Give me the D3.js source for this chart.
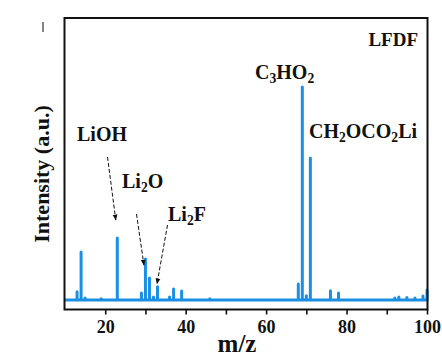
<!DOCTYPE html>
<html><head><meta charset="utf-8">
<script src="https://cdn.jsdelivr.net/npm/d3@7"></script>
<style>
html,body{margin:0;padding:0;background:#fff;}
svg{display:block;}
text{font-family:"Liberation Serif","Times New Roman",serif;font-weight:bold;fill:#111;}
</style></head><body>
<svg id="chart" width="442" height="360"></svg>
<script>
// m/z positions of peaks and their relative intensities
const peakMz        = [13, 14, 15, 19, 23, 29, 30, 31, 32, 33, 36, 37, 39, 46, 68, 69, 70, 71, 76, 78, 92, 93, 95, 97, 99, 100];
const peakIntensity = [3.9, 22.5, 0.9, 0.6, 29.1, 3.3, 19.2, 10.3, 1.4, 6.2, 1.4, 5.2, 4.2, 0.6, 7.5, 100, 2, 66.7, 4.4, 3.3, 0.9, 1.4, 1.2, 0.9, 1.9, 4.7];
const xTicks = [20, 30, 40, 50, 60, 70, 80, 90, 100];
const xTickLabels = ["20", "", "40", "", "60", "", "80", "", "100"];
const xDomain = [10, 100];
const sampleLabel = "LFDF";
const xTitle = "m/z";
const yTitle = "Intensity (a.u.)";

const svg = d3.select("#chart");
const plot = {left: 64.5, right: 427.5, top: 18, bottom: 309.5};
const x = d3.scaleLinear().domain(xDomain).range([65, 427]);
const y = d3.scaleLinear().domain([0, 100]).range([300, 87]);

// spectrum path
const pts = [[xDomain[0], 0]];
peakMz.forEach((m, i) => { pts.push([m, 0], [m, peakIntensity[i]], [m, 0]); });
pts.push([xDomain[1], 0]);
const line = d3.line().x(d => x(d[0])).y(d => y(d[1]));
svg.append("path").attr("d", line(pts))
  .attr("fill", "none").attr("stroke", "#1b8fe4").attr("stroke-width", 3)
  .attr("stroke-linejoin", "round");

// frame
svg.append("rect").attr("x", plot.left).attr("y", plot.top)
  .attr("width", plot.right - plot.left).attr("height", plot.bottom - plot.top)
  .attr("fill", "none").attr("stroke", "#111").attr("stroke-width", 2);

// bottom axis
const xAxis = d3.axisBottom(x).tickValues(xTicks).tickSize(5).tickPadding(6)
  .tickFormat((d, i) => xTickLabels[i]);
const gx = svg.append("g").attr("transform", `translate(0,${plot.bottom})`).call(xAxis);
gx.select(".domain").remove();
gx.selectAll(".tick line").attr("stroke", "#111").attr("stroke-width", 1.6);
gx.selectAll(".tick text").attr("font-size", 18).attr("font-family", "Liberation Serif")
  .attr("font-weight", "bold").attr("fill", "#111");

// axis titles
svg.append("text").attr("x", 237).attr("y", 352).attr("text-anchor", "middle")
  .attr("font-size", 25).text(xTitle);
svg.append("text").attr("transform", "translate(49,174) rotate(-90)")
  .attr("text-anchor", "middle").attr("font-size", 22).text(yTitle);

// sample label
svg.append("text").attr("x", 418).attr("y", 46).attr("text-anchor", "end")
  .attr("font-size", 19).text(sampleLabel);

// labels with subscripts
function formula(xp, yp, parts, size, anchor) {
  const t = svg.append("text").attr("x", xp).attr("y", yp).attr("font-size", size)
    .attr("text-anchor", anchor || "start");
  let shifted = false;
  parts.forEach(p => {
    const sub = typeof p === "object";
    const s = t.append("tspan").text(sub ? p.s : p);
    if (sub) { s.attr("font-size", size * 0.68).attr("dy", shifted ? 0 : 4); shifted = true; }
    else if (shifted) { s.attr("dy", -4); shifted = false; }
  });
  return t;
}
formula(255, 79, ["C", {s: "3"}, "HO", {s: "2"}], 20);
formula(309, 138, ["CH", {s: "2"}, "OCO", {s: "2"}, "Li"], 20);
formula(77, 141, ["LiOH"], 20);
formula(122, 188, ["Li", {s: "2"}, "O"], 20);
formula(168, 221, ["Li", {s: "2"}, "F"], 20);

// dashed arrows
svg.append("defs").append("marker").attr("id", "ah").attr("viewBox", "0 0 10 10")
  .attr("refX", 9).attr("refY", 5).attr("markerWidth", 6).attr("markerHeight", 6)
  .attr("orient", "auto").attr("markerUnits", "userSpaceOnUse")
  .append("path").attr("d", "M0,1 L10,5 L0,9 Z").attr("fill", "#111");
const arrowMz = [23, 30, 33];
const arrowStarts = [[107.5, 157], [136.5, 214], [167.5, 225]];
const arrowGap = [18, -6, 3];
arrowMz.forEach((m, i) => {
  const idx = peakMz.indexOf(m);
  const ex = x(m) - (i === 2 ? 0.5 : 1.5), ey = y(peakIntensity[idx]) - arrowGap[i];
  svg.append("line").attr("x1", arrowStarts[i][0]).attr("y1", arrowStarts[i][1])
    .attr("x2", ex).attr("y2", ey)
    .attr("stroke", "#111").attr("stroke-width", 1).attr("stroke-dasharray", "4,2")
    .attr("marker-end", "url(#ah)");
});

// small stray mark at top-left
svg.append("line").attr("x1", 43).attr("x2", 43).attr("y1", 22).attr("y2", 32)
  .attr("stroke", "#333").attr("stroke-width", 1.2);
</script>
</body></html>
